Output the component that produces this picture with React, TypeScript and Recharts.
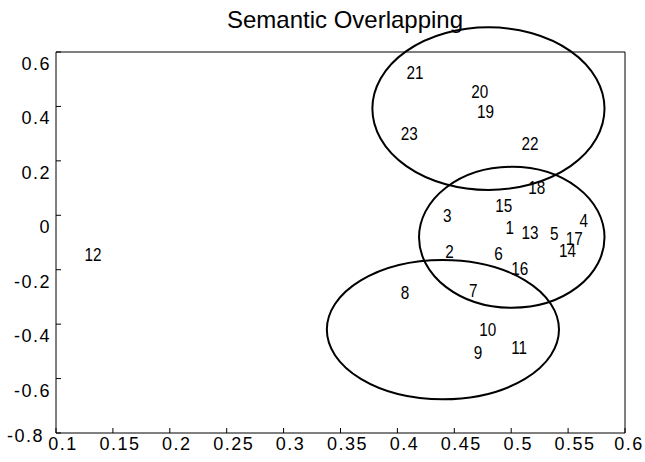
import { ReferenceArea, Scatter, ScatterChart, XAxis, YAxis } from "recharts";

// word labels and their MDS coordinates
const labels = ["1", "2", "3", "4", "5", "6", "7", "8", "9", "10", "11", "12", "13", "14", "15", "16", "17", "18", "19", "20", "21", "22", "23"];
const xValues = [0.495, 0.442, 0.44, 0.56, 0.534, 0.485, 0.463, 0.403, 0.467, 0.472, 0.5, 0.125, 0.509, 0.542, 0.486, 0.5, 0.548, 0.515, 0.47, 0.465, 0.408, 0.509, 0.403];
const yValues = [-0.043, -0.134, 0.001, -0.02, -0.066, -0.14, -0.275, -0.283, -0.505, -0.419, -0.487, -0.143, -0.063, -0.13, 0.035, -0.197, -0.087, 0.102, 0.381, 0.454, 0.526, 0.264, 0.301];

// cluster ellipses, bounding boxes in data units
const ellipseX1 = [0.378, 0.419, 0.338];
const ellipseX2 = [0.582, 0.582, 0.542];
const ellipseY1 = [0.093, -0.34, -0.676];
const ellipseY2 = [0.691, 0.178, -0.164];

const xTicks = [0.1, 0.15, 0.2, 0.25, 0.3, 0.35, 0.4, 0.45, 0.5, 0.55, 0.6];
const yTicks = [-0.8, -0.6, -0.4, -0.2, 0, 0.2, 0.4, 0.6];

const points = labels.map((label, i) => ({ label, x: xValues[i], y: yValues[i] }));

const tickFont = { fontFamily: "'Liberation Sans', Arial, sans-serif", fontSize: 18, letterSpacing: 1.5 };

function XTick({ x, y, payload }: any) {
  const last = payload.value === 0.6;
  return (
    <text x={x + (last ? 4 : 7)} y={y + 22} textAnchor="middle" fill="#000" {...tickFont}>
      {payload.value}
    </text>
  );
}

function YTick({ x, y, payload }: any) {
  const low = payload.value === -0.8;
  return (
    <text x={x - (low ? 17 : 10)} y={y + (low ? 9 : 18)} textAnchor="end" fill="#000" {...tickFont}>
      {payload.value}
    </text>
  );
}

function LabelMark({ cx, cy, payload }: any) {
  return (
    <text
      transform={`translate(${cx},${cy}) scale(0.85,1)`}
      x={0}
      y={6.5}
      fill="#000"
      fontFamily="'Liberation Sans', Arial, sans-serif"
      fontSize={18}
    >
      {payload.label}
    </text>
  );
}

function EllipseShape({ x, y, width, height }: any) {
  return (
    <ellipse
      cx={x + width / 2}
      cy={y + height / 2}
      rx={width / 2}
      ry={height / 2}
      fill="none"
      stroke="#000"
      strokeWidth={2}
    />
  );
}

export default function App() {
  return (
    <div style={{ position: "absolute", left: 0, top: 0, width: 645, height: 462, background: "#fff" }}>
      <ScatterChart width={645} height={462} margin={{ top: 51, right: 19, bottom: 0, left: 0 }}>
        <XAxis
          allowDataOverflow
          axisLine={{ stroke: "#000" }}
          dataKey="x"
          domain={[0.1, 0.6]}
          height={29}
          tick={<XTick />}
          tickLine={{ stroke: "#000" }}
          tickMargin={0}
          tickSize={-5}
          ticks={xTicks}
          type="number"
        />
        <XAxis
          allowDataOverflow
          axisLine={{ stroke: "#000" }}
          domain={[0.1, 0.6]}
          height={1}
          orientation="top"
          tick={false}
          tickLine={{ stroke: "#000" }}
          tickSize={-5}
          ticks={xTicks}
          type="number"
          xAxisId="top"
        />
        <YAxis
          allowDataOverflow
          axisLine={{ stroke: "#000" }}
          dataKey="y"
          domain={[-0.8, 0.6]}
          tick={<YTick />}
          tickLine={{ stroke: "#000" }}
          tickMargin={0}
          tickSize={-5}
          ticks={yTicks}
          type="number"
          width={56}
        />
        <YAxis
          allowDataOverflow
          axisLine={{ stroke: "#000" }}
          domain={[-0.8, 0.6]}
          orientation="right"
          tick={false}
          tickLine={{ stroke: "#000" }}
          tickSize={-5}
          ticks={yTicks}
          type="number"
          width={1}
          yAxisId="right"
        />
        {ellipseX1.map((x1, i) => (
          <ReferenceArea
            key={i}
            ifOverflow="visible"
            shape={<EllipseShape />}
            x1={x1}
            x2={ellipseX2[i]}
            y1={ellipseY1[i]}
            y2={ellipseY2[i]}
          />
        ))}
        <Scatter data={points} isAnimationActive={false} shape={<LabelMark />} />
      </ScatterChart>
      <svg width={645} height={40} style={{ position: "absolute", left: 0, top: 0, pointerEvents: "none" }}>
        <text x={345} y={28} textAnchor="middle" fill="#000" fontFamily="'Liberation Sans', Arial, sans-serif" fontSize={24}>
          Semantic Overlapping
        </text>
      </svg>
    </div>
  );
}
